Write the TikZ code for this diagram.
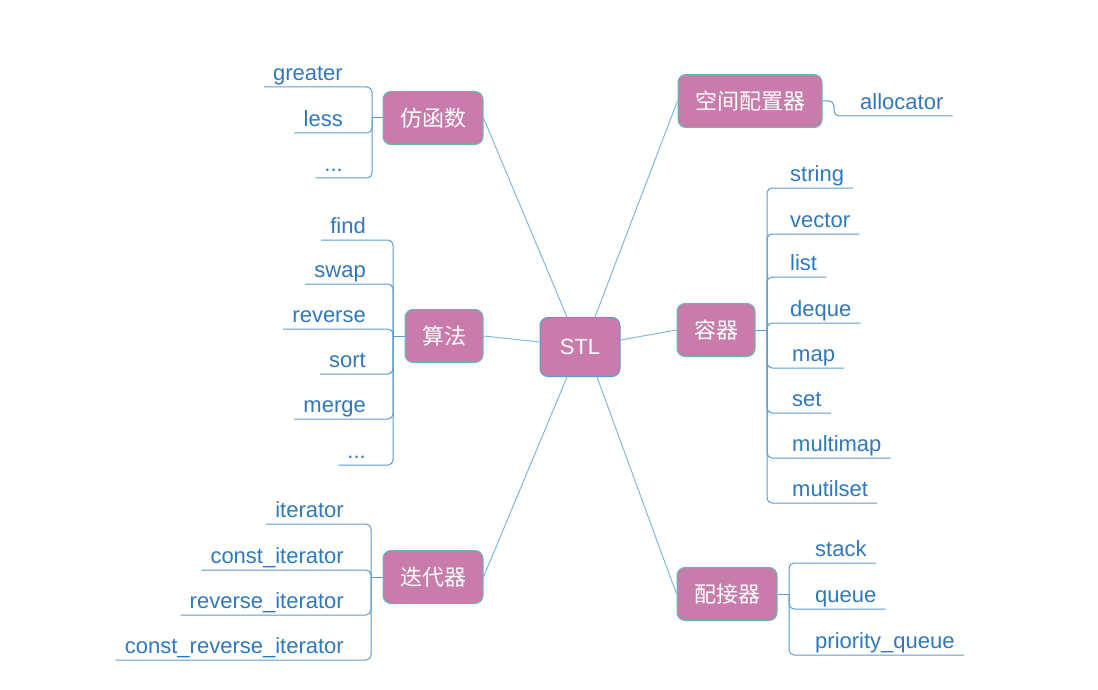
\documentclass[tikz,border=0pt]{standalone}
\usepackage{fontspec}
\setmainfont{Liberation Sans}
\newfontfamily\cjk{Noto Sans CJK SC}
\usepackage{xcolor}
\usetikzlibrary{positioning}

\definecolor{boxpink}{HTML}{C97BAB}
\definecolor{tealline}{HTML}{5FBDAE}
\definecolor{rootline}{HTML}{5B9BD5}
\definecolor{linkblue}{HTML}{82B8DF}
\definecolor{leafline}{HTML}{5A9BD0}
\definecolor{leaftext}{HTML}{2F78BD}

\begin{document}
\begin{tikzpicture}[
    x=1pt, y=-1pt,
    topic/.style={rectangle, rounded corners=8pt, minimum height=53pt, inner xsep=17pt, draw=tealline, line width=1pt, fill=boxpink, text=white, font=\cjk\fontsize{22}{26}\selectfont},
    root/.style={topic, draw=rootline, minimum width=80pt, minimum height=59pt, font=\fontsize{22}{26}\selectfont},
    leaf/.style={inner xsep=9pt, inner ysep=1.5pt, text height=15pt, text depth=5pt, text=leaftext, font=\fontsize{22}{26}\selectfont},
    link/.style={draw=linkblue, line width=1pt},
    branch/.style={draw=leafline, line width=1pt, rounded corners=5pt}
]
\useasboundingbox (0,0) rectangle (1098,690);

% Nodes
\node[root] (stl) at (580,347) {STL};
\node[topic] (functor) at (433,118) {仿函数};
\node[topic] (algo) at (444,336) {算法};
\node[topic] (iter) at (433,577) {迭代器};
\node[topic] (alloc) at (750,101) {空间配置器};
\node[topic] (cont) at (716,330) {容器};
\node[topic] (adapt) at (727,594) {配接器};

% Links to STL
\draw[link] (functor.east) -- ([xshift=-13pt]stl.north);
\draw[link] (algo.east) -- ([yshift=5pt]stl.west);
\draw[link] (iter.east) -- ([xshift=-13pt]stl.south);
\draw[link] (alloc.west) -- ([xshift=15pt]stl.north);
\draw[link] (cont.west) -- ([yshift=7pt]stl.east);
\draw[link] (adapt.west) -- ([xshift=17pt]stl.south);

% Fork points
\coordinate (ffork) at (372,118);
\coordinate (afork) at (393,336);
\coordinate (ifork) at (371,577);
\coordinate (lfork) at (834,101);
\coordinate (cfork) at (767,330);
\coordinate (pfork) at (789,594);
\draw[branch] (functor.west) -- (ffork);
\draw[branch] (algo.west) -- (afork);
\draw[branch] (iter.west) -- (ifork);
\draw[branch] (cont.east) -- (cfork);
\draw[branch] (adapt.east) -- (pfork);

% Functor leaves
\node[leaf, anchor=south east] (greater) at (352,87) {greater};
\node[leaf, anchor=south east] (less) at (352,133) {less};
\node[leaf, anchor=south east] (fdots) at (352,178) {...};
\draw[branch] (ffork) |- (greater.south west);
\draw[branch] (ffork) |- (less.south west);
\draw[branch] (ffork) |- (fdots.south west);

% Algorithm leaves
\node[leaf, anchor=south east] (find) at (375,240) {find};
\node[leaf, anchor=south east] (swap) at (375,284) {swap};
\node[leaf, anchor=south east] (reverse) at (375,329) {reverse};
\node[leaf, anchor=south east] (sort) at (375,374) {sort};
\node[leaf, anchor=south east] (merge) at (375,419) {merge};
\node[leaf, anchor=south east] (adots) at (375,465) {...};
\draw[branch] (afork) |- (find.south west);
\draw[branch] (afork) |- (swap.south west);
\draw[branch] (afork) |- (reverse.south west);
\draw[branch] (afork) |- (sort.south west);
\draw[branch] (afork) |- (merge.south west);
\draw[branch] (afork) |- (adots.south west);

% Iterator leaves
\node[leaf, anchor=south east] (it) at (353,524) {iterator};
\node[leaf, anchor=south east] (cit) at (353,570) {const\_iterator};
\node[leaf, anchor=south east] (rit) at (353,615) {reverse\_iterator};
\node[leaf, anchor=south east] (crit) at (353,660) {const\_reverse\_iterator};
\draw[branch] (ifork) |- (it.south west);
\draw[branch] (ifork) |- (cit.south west);
\draw[branch] (ifork) |- (rit.south west);
\draw[branch] (ifork) |- (crit.south west);

% Allocator leaf
\node[leaf, anchor=south west] (allocator) at (851,116) {allocator};
\draw[branch] (alloc.east) -- (lfork) |- (allocator.south east);

% Container leaves
\node[leaf, anchor=south west] (string) at (781,188) {string};
\node[leaf, anchor=south west] (vector) at (781,234) {vector};
\node[leaf, anchor=south west] (list) at (781,277) {list};
\node[leaf, anchor=south west] (deque) at (781,323) {deque};
\node[leaf, anchor=south west] (map) at (783,368) {map};
\node[leaf, anchor=south west] (set) at (783,413) {set};
\node[leaf, anchor=south west] (multimap) at (783,458) {multimap};
\node[leaf, anchor=south west] (mutilset) at (783,503) {mutilset};
\draw[branch] (cfork) |- (string.south east);
\draw[branch] (cfork) |- (vector.south east);
\draw[branch] (cfork) |- (list.south east);
\draw[branch] (cfork) |- (deque.south east);
\draw[branch] (cfork) |- (map.south east);
\draw[branch] (cfork) |- (set.south east);
\draw[branch] (cfork) |- (multimap.south east);
\draw[branch] (cfork) |- (mutilset.south east);

% Adapter leaves
\node[leaf, anchor=south west] (stack) at (806,563) {stack};
\node[leaf, anchor=south west] (queue) at (806,609) {queue};
\node[leaf, anchor=south west] (pqueue) at (806,655) {priority\_queue};
\draw[branch] (pfork) |- (stack.south east);
\draw[branch] (pfork) |- (queue.south east);
\draw[branch] (pfork) |- (pqueue.south east);

\end{tikzpicture}
\end{document}
